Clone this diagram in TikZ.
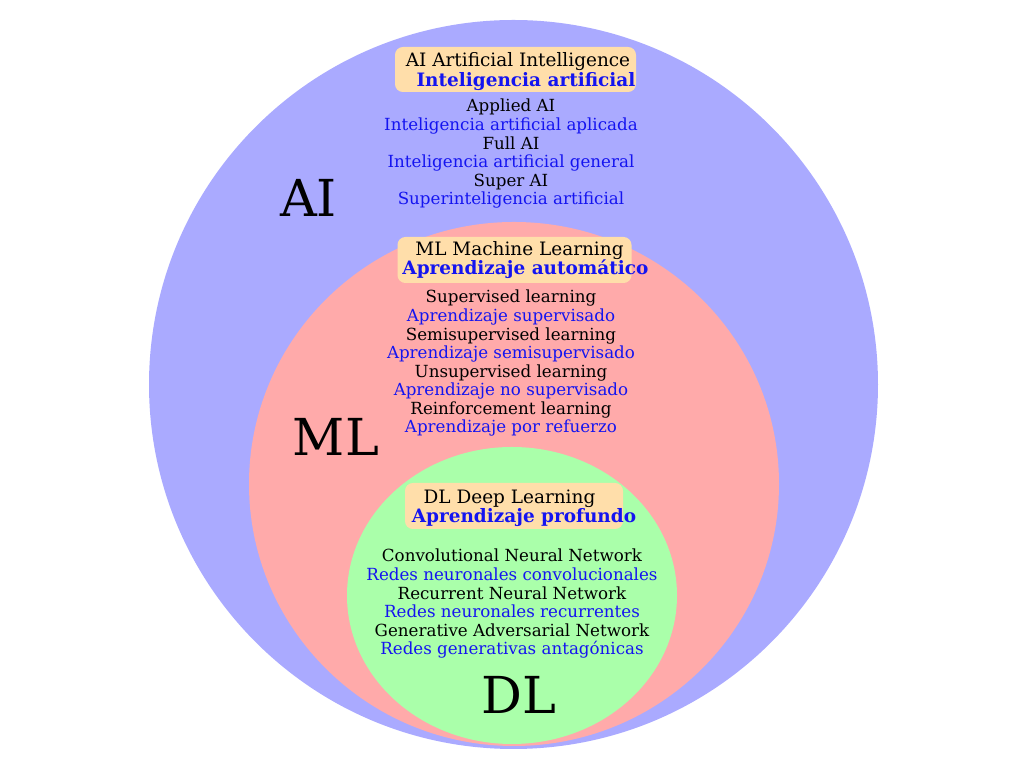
\documentclass[tikz,border=0pt]{standalone}
\usepackage{fontspec}
\setmainfont{DejaVu Serif}
\usetikzlibrary{positioning}
\definecolor{aiBlue}{HTML}{AAAAFF}
\definecolor{mlPink}{HTML}{FFAAAA}
\definecolor{dlGreen}{HTML}{AAFFAA}
\definecolor{headOrange}{HTML}{FFDEAA}
\definecolor{esBlue}{HTML}{1414F0}

\begin{document}
\begin{tikzpicture}[
  entext/.style={anchor=base, inner sep=0pt, font=\fontsize{9.5}{11}\selectfont},
  estext/.style={entext, text=esBlue},
  headen/.style={anchor=base, inner sep=0pt, font=\fontsize{10.5}{12}\selectfont},
  heades/.style={headen, text=esBlue, font=\fontsize{10.5}{12}\selectfont\bfseries},
  headbox/.style={fill=headOrange, rounded corners=4.5pt, inner sep=0pt},
  biglabel/.style={anchor=base, inner sep=0pt, font=\fontsize{29}{32}\selectfont}]
\useasboundingbox (0,0) rectangle (20.48,15.36);

% the three sets
\fill[aiBlue] (10.27,7.67) circle[radius=7.29];
\fill[mlPink] (10.28,5.68) ellipse[x radius=5.30, y radius=5.24];
\fill[dlGreen] (10.24,3.45) ellipse[x radius=3.30, y radius=2.97];

% AI
\node[headbox, minimum width=4.82cm, minimum height=0.90cm] (aihead) at (10.31,13.97) {};
\node[headen] (aititle) at (10.36,14.02) {AI Artificial Intelligence};
\node[heades] (aititlees) at (10.52,13.62) {Inteligencia artificial};
\foreach \en/\es [count=\i from 0] in {Applied AI/Inteligencia artificial aplicada, Full AI/Inteligencia artificial general, Super AI/Superinteligencia artificial} {
  \node[entext] (aien\i) at (10.22,13.12-0.744*\i) {\en};
  \node[estext] (aies\i) at (10.22,12.748-0.744*\i) {\es};
}
\node[biglabel] (ailabel) at (6.17,11.02) {AI};

% ML
\node[headbox, minimum width=4.68cm, minimum height=0.92cm] (mlhead) at (10.29,10.16) {};
\node[headen] (mltitle) at (10.39,10.24) {ML Machine Learning};
\node[heades] (mltitlees) at (10.51,9.86) {Aprendizaje automático};
\foreach \en/\es [count=\i from 0] in {Supervised learning/Aprendizaje supervisado, Semisupervised learning/Aprendizaje semisupervisado, Unsupervised learning/Aprendizaje no supervisado, Reinforcement learning/Aprendizaje por refuerzo} {
  \node[entext] (mlen\i) at (10.22,9.30-0.743*\i) {\en};
  \node[estext] (mles\i) at (10.22,8.929-0.743*\i) {\es};
}
\node[biglabel] (mllabel) at (6.72,6.24) {ML};

% DL
\node[headbox, minimum width=4.36cm, minimum height=0.92cm] (dlhead) at (10.28,5.24) {};
\node[headen] (dltitle) at (10.19,5.28) {DL Deep Learning};
\node[heades] (dltitlees) at (10.48,4.90) {Aprendizaje profundo};
\foreach \en/\es [count=\i from 0] in {Convolutional Neural Network/Redes neuronales convolucionales, Recurrent Neural Network/Redes neuronales recurrentes, Generative Adversarial Network/Redes generativas antagónicas} {
  \node[entext] (dlen\i) at (10.24,4.12-0.744*\i) {\en};
  \node[estext] (dles\i) at (10.24,3.748-0.744*\i) {\es};
}
\node[biglabel] (dllabel) at (10.37,1.08) {DL};
\end{tikzpicture}
\end{document}
